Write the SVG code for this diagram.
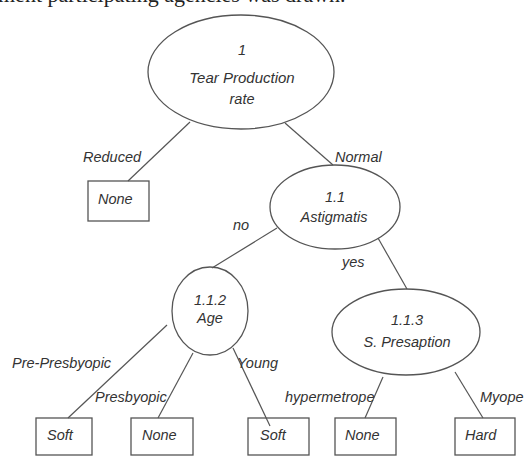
<svg xmlns="http://www.w3.org/2000/svg" width="527" height="456" viewBox="0 0 527 456">
<style>
.n{fill:none;stroke:#555;stroke-width:1.3}
.e{stroke:#555;stroke-width:1.2;fill:none}
text{font-family:"Liberation Sans",Arial,sans-serif;font-style:italic;font-size:14.5px;fill:#333}
.c{text-anchor:middle}
.top{font-family:"Liberation Serif","Times New Roman",serif;font-style:normal;font-size:22px;fill:#222}
</style>
<rect width="527" height="456" fill="#fff"/>
<text class="top" x="-2" y="2">ment participating agencies was drawn.</text>
<g id="connectors">
<line class="e" x1="190" y1="122" x2="128" y2="181"/>
<line class="e" x1="285" y1="123" x2="333" y2="165"/>
<line class="e" x1="277" y1="228" x2="212" y2="268"/>
<line class="e" x1="378" y1="238" x2="407" y2="289"/>
<line class="e" x1="167" y1="325" x2="68" y2="418"/>
<line class="e" x1="193" y1="353" x2="158" y2="418"/>
<line class="e" x1="233" y1="348" x2="270" y2="426"/>
<line class="e" x1="383" y1="377" x2="365" y2="418"/>
<line class="e" x1="455" y1="372" x2="483" y2="418"/>
<text x="83" y="162">Reduced</text>
<text x="335" y="162">Normal</text>
<text x="233" y="230">no</text>
<text x="342" y="267">yes</text>
<text x="12" y="368">Pre-Presbyopic</text>
<text x="95" y="402">Presbyopic</text>
<text x="237" y="368">Young</text>
<text x="285" y="402">hypermetrope</text>
<text x="480" y="402">Myope</text>
</g>
<g id="n1">
<ellipse class="n" cx="241" cy="72" rx="93" ry="57"/>
<text class="c" x="242" y="55">1</text>
<text class="c" x="242" y="83" style="font-size:15px">Tear Production</text>
<text class="c" x="242" y="104">rate</text>
</g>
<g id="leafReduced">
<rect class="n" x="88" y="181" width="61" height="40"/>
<text x="98" y="204">None</text>
</g>
<g id="n1_1">
<ellipse class="n" cx="335" cy="207" rx="65" ry="42"/>
<text class="c" x="335" y="202">1.1</text>
<text class="c" x="334" y="222">Astigmatis</text>
</g>
<g id="n1_1_2">
<ellipse class="n" cx="210" cy="311" rx="38" ry="44"/>
<text class="c" x="210" y="305">1.1.2</text>
<text class="c" x="210" y="323">Age</text>
</g>
<g id="n1_1_3">
<ellipse class="n" cx="406" cy="332" rx="74" ry="43"/>
<text class="c" x="407" y="325">1.1.3</text>
<text class="c" x="407" y="347">S. Presaption</text>
</g>
<g id="leafSoft1">
<rect class="n" x="36" y="418" width="56" height="37"/>
<text x="47" y="440">Soft</text>
</g>
<g id="leafNone2">
<rect class="n" x="131" y="418" width="62" height="37"/>
<text x="142" y="440">None</text>
</g>
<g id="leafSoft3">
<rect class="n" x="248" y="418" width="61" height="37"/>
<text x="260" y="440">Soft</text>
</g>
<g id="leafNone4">
<rect class="n" x="335" y="418" width="61" height="37"/>
<text x="345" y="440">None</text>
</g>
<g id="leafHard">
<rect class="n" x="455" y="418" width="60" height="37"/>
<text x="465" y="440">Hard</text>
</g>
</svg>
